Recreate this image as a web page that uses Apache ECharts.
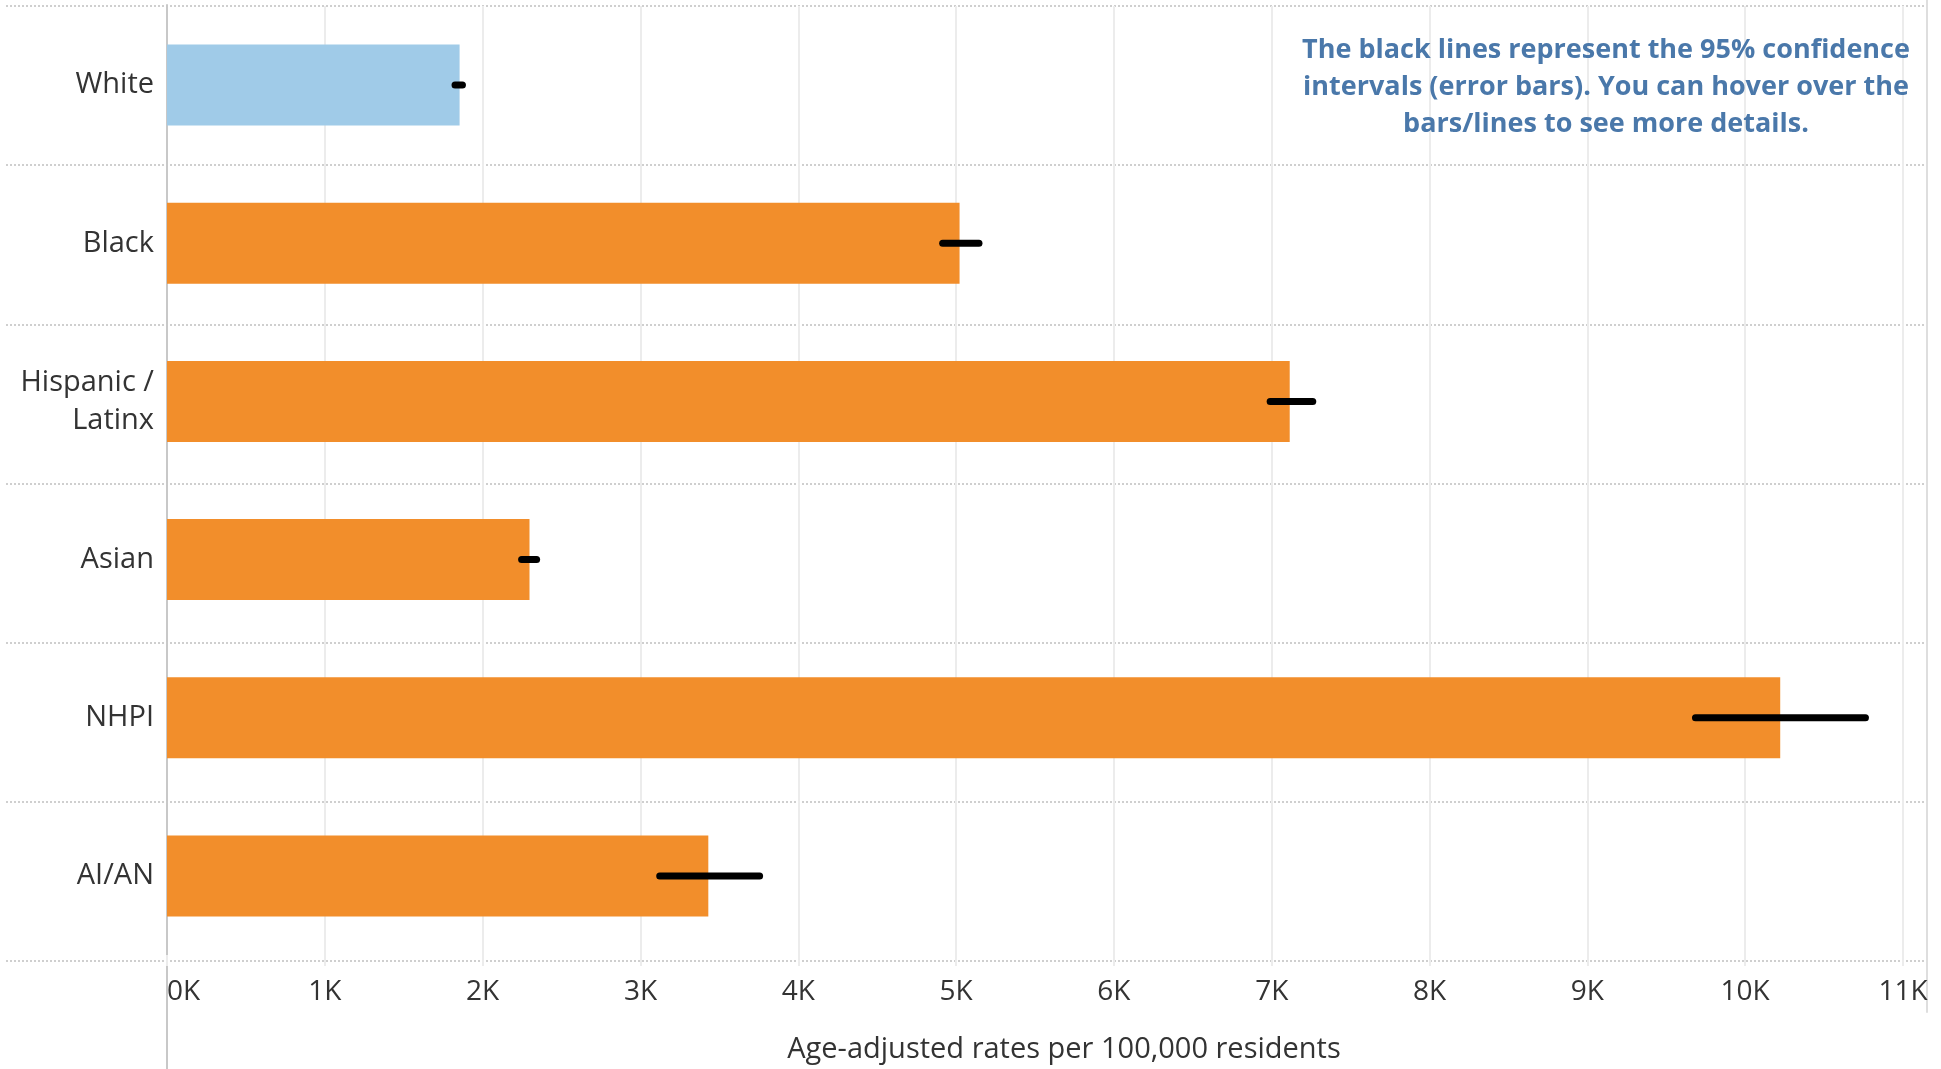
<!DOCTYPE html>
<html>
<head>
<meta charset="utf-8">
<script src="https://cdn.jsdelivr.net/npm/echarts@6/dist/echarts.min.js"></script>
<style>
  html, body { margin: 0; padding: 0; background: #ffffff; }
  #chart { width: 1941px; height: 1069px; }
</style>
</head>
<body>
<div id="chart"></div>
<script>
// ---- data ----
const categories = ['White', 'Black', 'Hispanic /\nLatinx', 'Asian', 'NHPI', 'AI/AN'];
const rates = [1854, 5022, 7114, 2297, 10222, 3430];
const ciLow = [1825, 4915, 6990, 2247, 9685, 3122];
const ciHigh = [1872, 5145, 7260, 2342, 10762, 3755];
const highlightCategory = 'White';
const xMin = 0;
const xMax = 11000;
const xStep = 1000;
const axisTitle = 'Age-adjusted rates per 100,000 residents';
const noteText = 'The black lines represent the 95% confidence\nintervals (error bars). You can hover over the\nbars/lines to see more details.';

// ---- styles ----
const baseColor = '#f28e2b';
const highlightColor = '#a0cbe8';
const font = '"Open Sans", "Noto Sans", sans-serif';

const chart = echarts.init(document.getElementById('chart'), null, { renderer: 'canvas' });

const option = {
  animation: false,
  backgroundColor: '#ffffff',
  title: {
    text: noteText,
    left: 1606,
    top: 32,
    textAlign: 'center',
    padding: 0,
    textStyle: {
      fontFamily: font,
      fontSize: 27,
      fontWeight: 'bold',
      lineHeight: 37,
      color: '#4a78aa'
    }
  },
  grid: [
    { left: 6, right: 16, top: 6, bottom: 108, containLabel: false },
    { left: 167, right: 38, top: 6, bottom: 108, containLabel: false },
    { left: 167, right: 38, top: 5, bottom: 0, containLabel: false },
    { left: 0, right: 14, top: 0, bottom: 57, containLabel: false }
  ],
  xAxis: [
    { gridIndex: 0, type: 'value', min: 0, max: 1, show: false },
    {
      gridIndex: 1,
      type: 'value',
      min: xMin,
      max: xMax,
      interval: xStep,
      axisLine: { show: false },
      axisTick: { show: true, length: 11, lineStyle: { color: '#ececec', width: 2 } },
      splitLine: { show: true, lineStyle: { color: '#ececec', width: 2 } },
      axisLabel: {
        formatter: v => (v / 1000) + 'K',
        fontFamily: font,
        fontSize: 28,
        color: '#333333',
        margin: 23,
        alignMinLabel: 'left'
      },
      name: axisTitle,
      nameLocation: 'middle',
      nameGap: 80,
      nameTextStyle: {
        fontFamily: font,
        fontSize: 29,
        color: '#333333',
        padding: [0, 0, 0, 58]
      }
    },
    { gridIndex: 2, type: 'value', min: 0, max: 1, show: false },
    { gridIndex: 3, type: 'value', min: 0, max: 1, show: false }
  ],
  yAxis: [
    {
      gridIndex: 0,
      type: 'value',
      min: 0,
      max: categories.length,
      interval: 1,
      axisLine: { show: false },
      axisTick: { show: false },
      axisLabel: { show: false },
      splitLine: { show: true, lineStyle: { color: '#cfcfcf', width: 2, type: 'dotted' } }
    },
    {
      gridIndex: 1,
      type: 'category',
      inverse: true,
      data: categories,
      axisLine: { show: false },
      axisTick: { show: false },
      splitLine: { show: false },
      axisLabel: {
        fontFamily: font,
        fontSize: 29,
        lineHeight: 38,
        color: '#333333',
        margin: 13,
        align: 'right'
      }
    },
    {
      gridIndex: 2,
      type: 'value',
      min: 0,
      max: 1,
      axisLine: { show: true, onZero: false, lineStyle: { color: '#c8c8c8', width: 2 } },
      axisTick: { show: false },
      axisLabel: { show: false },
      splitLine: { show: false }
    },
    {
      gridIndex: 3,
      type: 'value',
      position: 'right',
      min: 0,
      max: 1,
      axisLine: { show: true, onZero: false, lineStyle: { color: '#dedede', width: 2 } },
      axisTick: { show: false },
      axisLabel: { show: false },
      splitLine: { show: false }
    }
  ],
  series: [
    {
      type: 'bar',
      xAxisIndex: 1,
      yAxisIndex: 1,
      barWidth: 81,
      data: rates.map((v, i) => ({
        value: v,
        itemStyle: { color: categories[i] === highlightCategory ? highlightColor : baseColor }
      }))
    },
    {
      type: 'custom',
      xAxisIndex: 1,
      yAxisIndex: 1,
      data: categories.map((c, i) => [ciLow[i], ciHigh[i], i]),
      encode: { x: [0, 1], y: 2 },
      renderItem: function (params, api) {
        const lo = api.coord([api.value(0), api.value(2)]);
        const hi = api.coord([api.value(1), api.value(2)]);
        return {
          type: 'line',
          shape: { x1: lo[0], y1: lo[1], x2: hi[0], y2: hi[1] },
          style: { stroke: '#000000', lineWidth: 7, lineCap: 'round' }
        };
      },
      z: 5
    }
  ]
};

chart.setOption(option);
</script>
</body>
</html>
